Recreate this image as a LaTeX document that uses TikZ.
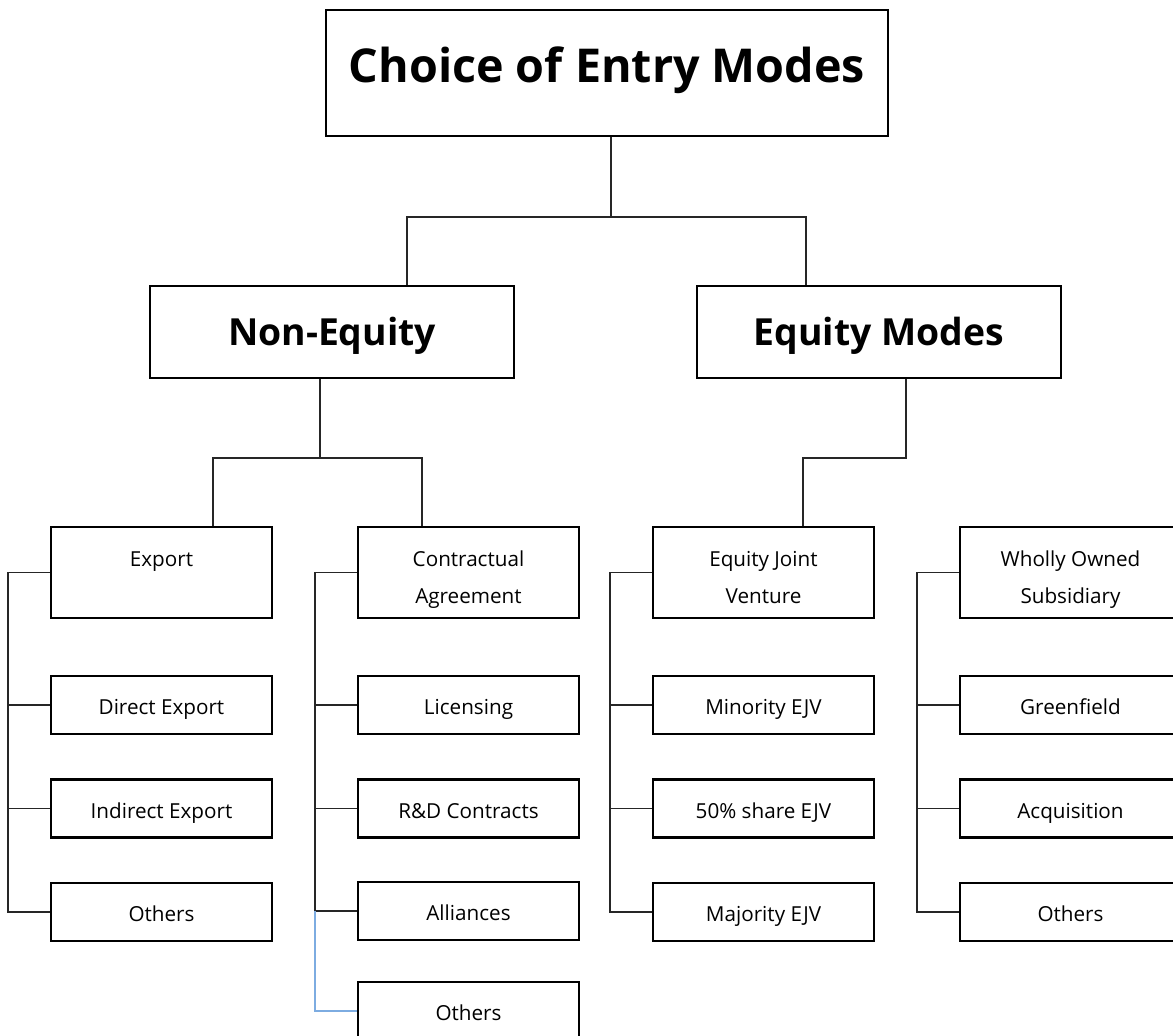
\documentclass[tikz,border=0pt]{standalone}
\usepackage{fontspec}
\setmainfont{Open Sans}
\begin{document}
\begin{tikzpicture}[x=0.75pt,y=-0.75pt,
  base/.style={draw=black,line width=1.8pt,inner sep=0pt,fill=white},
  topbox/.style={base,minimum width=562*0.75pt,minimum height=126*0.75pt,
    text height=33pt,text depth=19.3pt,
    font=\fontsize{35}{42}\selectfont\bfseries},
  midbox/.style={base,minimum height=92*0.75pt,
    text height=30pt,text depth=10pt,
    font=\fontsize{28}{34}\selectfont\bfseries},
  headbox/.style={base,minimum width=221*0.75pt,minimum height=91*0.75pt,
    text height=40pt,text depth=25.2pt,
    font=\fontsize{15.5}{27.5}\selectfont},
  leafbox/.style={base,minimum width=221*0.75pt,minimum height=58*0.75pt,
    text height=18.5pt,text depth=3.7pt,
    font=\fontsize{15.5}{20}\selectfont},
  link/.style={draw=black!85,line width=0.9pt},
  bluelink/.style={draw={rgb,255:red,125;green,172;blue,225},line width=0.9pt}]

\newcommand\twolines[2]{\begin{tabular}{@{}c@{}}#1\\#2\end{tabular}}

\fill[white] (0,0) rectangle (1173,1035);
\useasboundingbox (0,0) rectangle (1173,1035);
\clip (0,0) rectangle (1173,1035);

% top level
\node[topbox] (title) at (607,73) {Choice of Entry Modes};

% second level
\node[midbox,minimum width=364*0.75pt] (ne) at (332,332) {Non-Equity};
\node[midbox,minimum width=364*0.75pt] (eq) at (879,332) {Equity Modes};

% third level headings
\node[headbox] (ex) at (161.5,572.5) {\twolines{Export}{\mbox{}}};
\node[headbox] (ca) at (468.5,572.5) {\twolines{Contractual}{Agreement}};
\node[headbox] (ejv) at (763.5,572.5) {\twolines{Equity Joint}{Venture}};
\node[headbox] (wos) at (1070.5,572.5) {\twolines{Wholly Owned}{Subsidiary}};

% leaves: export
\node[leafbox] (de) at (161.5,705) {Direct Export};
\node[leafbox] (ie) at (161.5,808.5) {Indirect Export};
\node[leafbox] (o1) at (161.5,912) {Others};
% leaves: contractual agreement
\node[leafbox] (lic) at (468.5,705) {Licensing};
\node[leafbox] (rd) at (468.5,808.5) {R\&D Contracts};
\node[leafbox] (al) at (468.5,911) {Alliances};
\node[leafbox] (o2) at (468.5,1011) {Others};
% leaves: equity joint venture
\node[leafbox] (min) at (763.5,705) {Minority EJV};
\node[leafbox] (half) at (763.5,808.5) {50\% share EJV};
\node[leafbox] (maj) at (763.5,912) {Majority EJV};
% leaves: wholly owned subsidiary
\node[leafbox] (gf) at (1070.5,705) {Greenfield};
\node[leafbox] (acq) at (1070.5,808.5) {Acquisition};
\node[leafbox] (o3) at (1070.5,912) {Others};

% junction points
\coordinate (j1) at (611,217);
\coordinate (jne) at (407,217);
\coordinate (jeq) at (806,217);
\coordinate (k1) at (320,458);
\coordinate (kex) at (213,458);
\coordinate (kca) at (422,458);
\coordinate (k2) at (906,458);
\coordinate (kejv) at (803,458);
\coordinate (b1) at (8,0);
\coordinate (b2) at (315,0);
\coordinate (b3) at (610,0);
\coordinate (b4) at (917,0);

% top level to second level
\path[link] (title.south -| j1) -- (j1);
\path[link] (jne |- ne.north) -- (jne) -- (jeq) -- (jeq |- eq.north);

% second level to third level
\path[link] (ne.south -| k1) -- (k1);
\path[link] (kex |- ex.north) -- (kex) -- (kca) -- (kca |- ca.north);
\path[link] (eq.south -| k2) -- (k2) -- (kejv) -- (kejv |- ejv.north);

% export branch
\path[link] (ex.west) -- (b1 |- ex.west) -- (b1 |- o1.west) -- (o1.west);
\path[link] (b1 |- de.west) -- (de.west);
\path[link] (b1 |- ie.west) -- (ie.west);

% contractual agreement branch
\path[link] (ca.west) -- (b2 |- ca.west) -- (b2 |- al.west) -- (al.west);
\path[link] (b2 |- lic.west) -- (lic.west);
\path[link] (b2 |- rd.west) -- (rd.west);
\path[bluelink] (b2 |- al.west) -- (b2 |- o2.west) -- (o2.west);

% equity joint venture branch
\path[link] (ejv.west) -- (b3 |- ejv.west) -- (b3 |- maj.west) -- (maj.west);
\path[link] (b3 |- min.west) -- (min.west);
\path[link] (b3 |- half.west) -- (half.west);

% wholly owned subsidiary branch
\path[link] (wos.west) -- (b4 |- wos.west) -- (b4 |- o3.west) -- (o3.west);
\path[link] (b4 |- gf.west) -- (gf.west);
\path[link] (b4 |- acq.west) -- (acq.west);
\end{tikzpicture}
\end{document}
